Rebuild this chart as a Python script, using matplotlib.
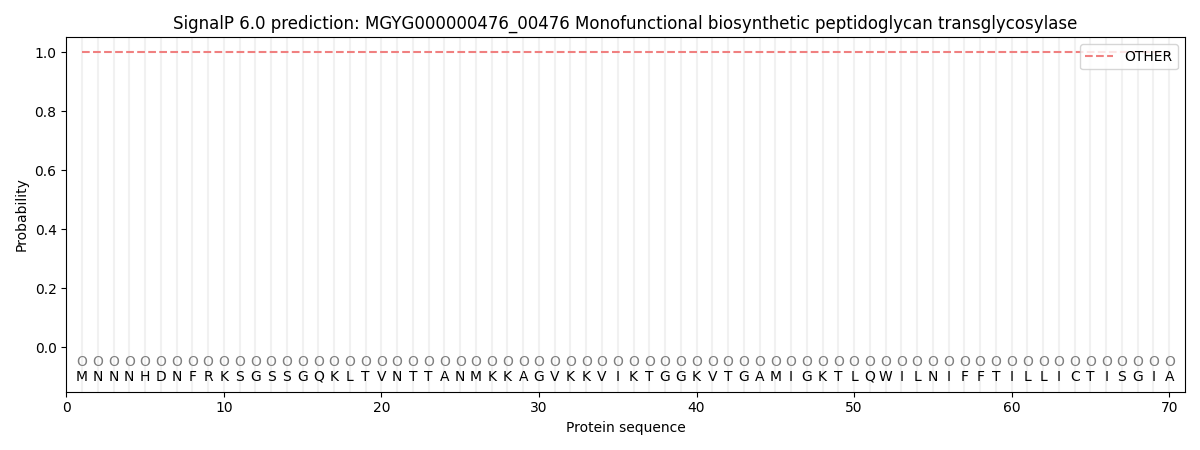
import matplotlib
matplotlib.use("Agg")
import matplotlib.pyplot as plt
import numpy as np

sequence = list("MNNNHDNFRKSGSSGQKLTVNTTANMKKAGVKKVIKTGGKVTGAMIGKTLQWILNIFFTILLICTISGIA")
positions = list(range(1, len(sequence) + 1))
other_prob = [1.0] * len(sequence)
region_labels = ["O"] * len(sequence)

fig, ax = plt.subplots(figsize=(12, 4.5), dpi=100)
for p in positions:
    ax.axvline(p, color="lightgrey", alpha=0.3, lw=1.5, zorder=0)
ax.plot(positions, other_prob, ls="--", color="#f08080", label="OTHER", lw=1.5)
for p, aa, lab in zip(positions, sequence, region_labels):
    ax.text(p, -0.05, lab, ha="center", va="center", color="grey", fontsize=10)
    ax.text(p, -0.1, aa, ha="center", va="center", color="black", fontsize=10)
ax.set_xlim(0, 71)
ax.set_ylim(-0.15, 1.05)
ax.set_xlabel("Protein sequence")
ax.set_ylabel("Probability")
ax.set_title("SignalP 6.0 prediction: MGYG000000476_00476 Monofunctional biosynthetic peptidoglycan transglycosylase")
ax.legend(loc="upper right")
fig.tight_layout()
fig.savefig("out.png")
